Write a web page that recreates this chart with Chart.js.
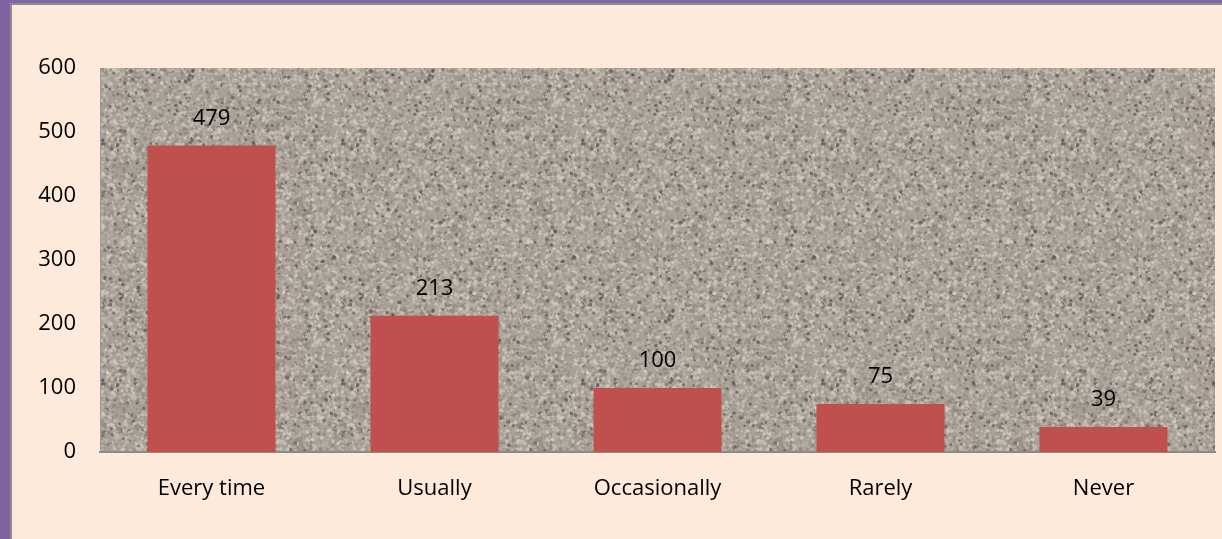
<!DOCTYPE html>
<html>
<head>
<meta charset="utf-8">
<script src="https://cdn.jsdelivr.net/npm/chart.js@4.4.1/dist/chart.umd.min.js"></script>
<style>
  html, body { margin: 0; padding: 0; background: #8064A2; width: 1222px; height: 539px; overflow: hidden; }
  #frame { position: absolute; left: 10px; top: 3px; right: 0; bottom: 0;
           border-left: 2px solid #8c8c8c; border-top: 2px solid #8c8c8c; background: #FDEADA; }
  #canvas { position: absolute; left: 0; top: 0; }
</style>
</head>
<body>
<div id="frame"></div>
<canvas id="canvas" width="1222" height="539"></canvas>
<script>
  // chart data
  var categories = ['Every time', 'Usually', 'Occasionally', 'Rarely', 'Never'];
  var counts = [479, 213, 100, 75, 39];
  var yTicks = [0, 100, 200, 300, 400, 500, 600];

  // granite-like texture for the plot area (seeded, purely decorative)
  function makeGranite() {
    var c = document.createElement('canvas');
    var W = 240, H = 240;
    c.width = W; c.height = H;
    var g = c.getContext('2d');
    var seed = 12345;
    var rnd = function() {
      seed |= 0; seed = seed + 0x6D2B79F5 | 0;
      var t = Math.imul(seed ^ seed >>> 15, 1 | seed);
      t = t + Math.imul(t ^ t >>> 7, 61 | t) ^ t;
      return ((t ^ t >>> 14) >>> 0) / 4294967296;
    };
    g.fillStyle = '#a8a096';
    g.fillRect(0, 0, W, H);
    for (var i = 0; i < 9000; i++) {
      var x = rnd() * W, y = rnd() * H;
      var r = 0.6 + rnd() * 1.5;
      var k = rnd();
      var col;
      if (k < 0.08) col = 'rgba(80,72,66,0.6)';
      else if (k < 0.38) col = 'rgba(140,131,122,0.6)';
      else if (k < 0.75) col = 'rgba(192,184,174,0.6)';
      else col = 'rgba(214,207,197,0.65)';
      g.fillStyle = col;
      // draw wrapped copies so the tile has no seams
      for (var dx = -W; dx <= W; dx += W) {
        for (var dy = -H; dy <= H; dy += H) {
          g.beginPath();
          g.arc(x + dx, y + dy, r, 0, Math.PI * 2);
          g.fill();
        }
      }
    }
    return c;
  }

  var plotBackground = {
    id: 'plotBackground',
    beforeDraw: function(chart) {
      var a = chart.chartArea, ctx = chart.ctx;
      ctx.save();
      ctx.fillStyle = ctx.createPattern(makeGranite(), 'repeat');
      ctx.fillRect(a.left, a.top, a.right - a.left, a.bottom - a.top);
      ctx.restore();
    }
  };

  var valueLabels = {
    id: 'valueLabels',
    afterDatasetsDraw: function(chart) {
      var ctx = chart.ctx;
      ctx.save();
      ctx.font = '22px "Open Sans"';
      ctx.fillStyle = '#000';
      ctx.textAlign = 'center';
      ctx.textBaseline = 'middle';
      chart.getDatasetMeta(0).data.forEach(function(bar, i) {
        ctx.fillText(String(counts[i]), bar.x, bar.y - 27);
      });
      ctx.restore();
    }
  };

  var config = {
    type: 'bar',
    data: {
      labels: categories,
      datasets: [{
        data: counts,
        backgroundColor: '#C0504D',
        categoryPercentage: 1,
        barPercentage: 0.574
      }]
    },
    options: {
      responsive: false,
      animation: false,
      layout: { padding: { top: 68, right: 7, left: 0, bottom: 0 } },
      plugins: { legend: { display: false }, tooltip: { enabled: false } },
      scales: {
        x: {
          grid: { display: false },
          border: { display: true, color: '#8a8a8a', width: 2 },
          ticks: { color: '#000', font: { family: 'Open Sans', size: 22 }, padding: 16 },
          afterFit: function(s) { s.height = 87; }
        },
        y: {
          min: 0, max: 600,
          grid: { display: false, drawTicks: false },
          border: { display: true, color: '#9a9a9a', width: 1 },
          afterBuildTicks: function(s) { s.ticks = yTicks.map(function(v) { return { value: v }; }); },
          ticks: { color: '#000', font: { family: 'Open Sans', size: 22 }, padding: 24 },
          afterFit: function(s) { s.width = 100; }
        }
      }
    },
    plugins: [plotBackground, valueLabels]
  };

  window.onload = function() {
    window.myBar = new Chart(document.getElementById('canvas'), config);
  };
</script>
</body>
</html>
